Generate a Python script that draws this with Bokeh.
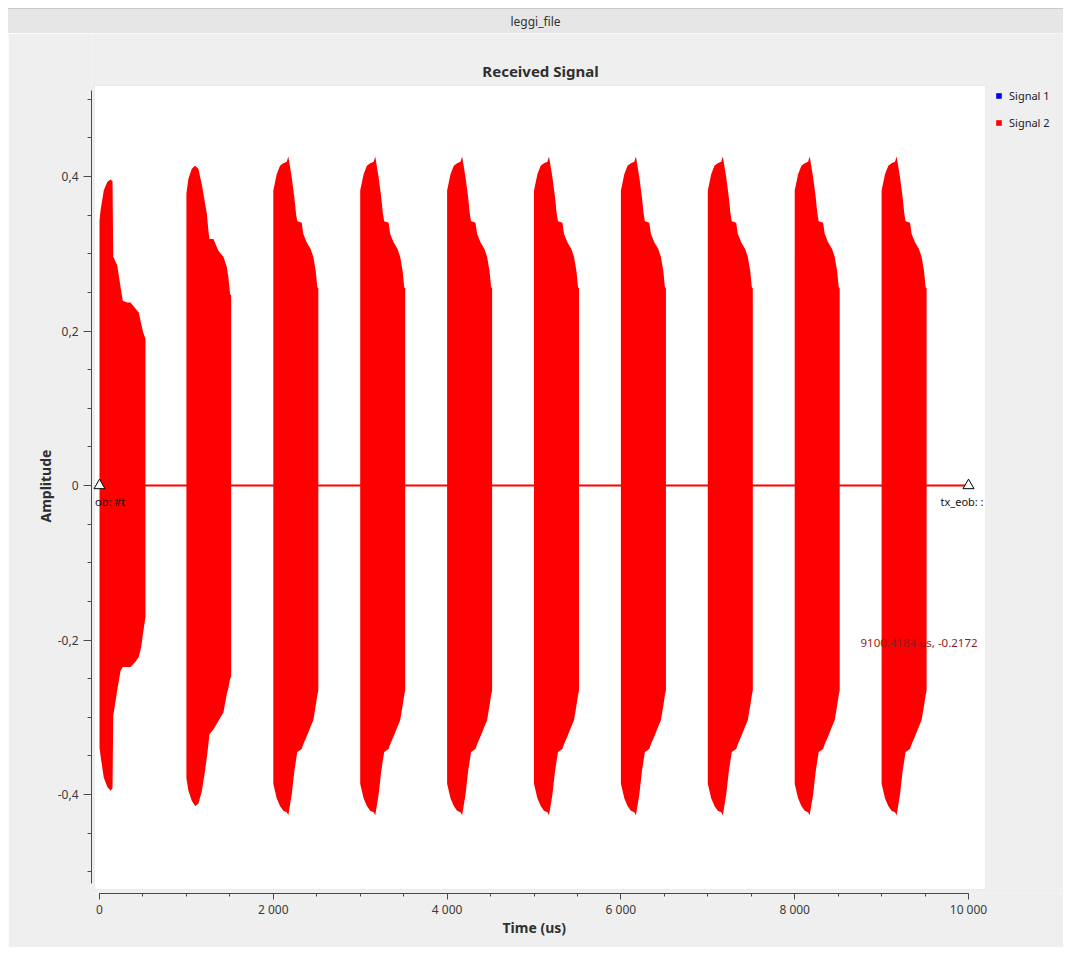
import numpy as np
from bokeh.plotting import figure
from bokeh.models import (Range1d, FixedTicker, CustomJSTickFormatter, BoxAnnotation,
                          Label, Legend, LegendItem, ColumnDataSource, Div, Title)
from bokeh.layouts import column
from bokeh.embed import file_html
from bokeh.resources import INLINE
from bokeh.core.properties import value

# ---------------- data ----------------
burst_start_us = [0, 1000, 2000, 3000, 4000, 5000, 6000, 7000, 8000, 9000]
burst_shape_id = [0, 1, 2, 2, 2, 2, 2, 2, 2, 2]

# shape 0 : first burst
shape0_t = [0, 12, 49, 89, 127, 150, 158, 204, 242, 268, 319, 357, 414, 452, 480, 503, 529]
shape0_top = [0.343, 0.356, 0.382, 0.393, 0.396, 0.394, 0.296, 0.285, 0.257, 0.239,
              0.237, 0.237, 0.229, 0.224, 0.209, 0.198, 0.190]
shape0_bot = [-0.339, -0.350, -0.378, -0.390, -0.395, -0.392, -0.298, -0.265, -0.240, -0.235,
              -0.235, -0.235, -0.228, -0.222, -0.209, -0.190, -0.170]

# shape 1 : second burst
shape1_t = [0, 23, 62, 100, 138, 177, 215, 235, 253, 265, 311, 368, 426, 465, 483, 503, 515]
shape1_top = [0.378, 0.397, 0.410, 0.414, 0.410, 0.390, 0.365, 0.352, 0.330, 0.319,
              0.319, 0.304, 0.296, 0.283, 0.270, 0.248, 0.246]
shape1_bot = [-0.379, -0.395, -0.408, -0.415, -0.412, -0.396, -0.369, -0.352, -0.335, -0.322,
              -0.316, -0.305, -0.294, -0.270, -0.262, -0.250, -0.248]

# shape 2 : bursts 3..10
shape2_t = [0, 39, 77, 115, 154, 173, 212, 242, 261, 276, 327, 345, 384, 430, 460, 488, 506, 518]
shape2_top = [0.382, 0.403, 0.414, 0.417, 0.419, 0.426, 0.399, 0.373, 0.352, 0.342,
              0.340, 0.326, 0.315, 0.306, 0.296, 0.278, 0.257, 0.255]
shape2_bot = [-0.386, -0.405, -0.415, -0.421, -0.423, -0.427, -0.400, -0.370, -0.356, -0.345,
              -0.341, -0.335, -0.325, -0.312, -0.304, -0.285, -0.272, -0.265]

idle_level = 0.0013          # residual amplitude of Signal 2 between bursts
signal1_level = 0.0008       # Signal 1 stays around zero
time_end_us = 10000

tag_times = [0, 10000]
tag_texts = ["ob: #t", "tx_eob: :"]

marker_text = "9100.4184 us, -0.2172"

x_major = [0, 2000, 4000, 6000, 8000, 10000]
y_major = [-0.4, -0.2, 0, 0.2, 0.4]

# ---------------- build series ----------------
shapes = [(shape0_t, shape0_top, shape0_bot),
          (shape1_t, shape1_top, shape1_bot),
          (shape2_t, shape2_top, shape2_bot)]

s2_t, s2_hi, s2_lo = [], [], []
prev_end = 0
for start, sid in zip(burst_start_us, burst_shape_id):
    st, top, bot = shapes[sid]
    if start > prev_end:
        s2_t += [prev_end, start]
        s2_hi += [idle_level, idle_level]
        s2_lo += [-idle_level, -idle_level]
    for t, a, b in zip(st, top, bot):
        s2_t.append(start + t)
        s2_hi.append(a)
        s2_lo.append(b)
    end = start + st[-1]
    s2_t.append(end); s2_hi.append(idle_level); s2_lo.append(-idle_level)
    prev_end = end
s2_t += [prev_end, time_end_us]
s2_hi += [idle_level, idle_level]
s2_lo += [-idle_level, -idle_level]

src2 = ColumnDataSource(dict(t=s2_t, hi=s2_hi, lo=s2_lo))
src1 = ColumnDataSource(dict(t=[0, time_end_us], hi=[signal1_level] * 2, lo=[-signal1_level] * 2))

# ---------------- layout helpers (page pixel -> data) ----------------
PX_US = 869 / 10000.0      # pixels per microsecond
PX_AMP = 772.5             # pixels per amplitude unit
X0_PAGE, Y0_PAGE = 99, 485


def X(px):
    return (px - X0_PAGE) / PX_US


def Y(py):
    return (Y0_PAGE - py) / PX_AMP


FIG_W, FIG_H = 1055, 914
FRAME_L, FRAME_T, FRAME_B = 91, 33, 893   # page coords
FRAME_R = 8 + FIG_W

FONT = "Noto Sans"

p = figure(width=FIG_W, height=FIG_H, output_backend="svg", toolbar_location=None,
           title=None,
           x_range=Range1d(X(FRAME_L), X(FRAME_R)),
           y_range=Range1d(Y(FRAME_B), Y(FRAME_T)),
           min_border_left=FRAME_L - 8, min_border_right=0, min_border_top=0,
           min_border_bottom=FIG_H - (FRAME_B - 33),
           background_fill_color="#efefef", border_fill_color="#efefef",
           outline_line_color=None)
p.grid.visible = False

# white canvas
p.add_layout(BoxAnnotation(left=X(94), right=X(985), top=Y(85), bottom=Y(889),
                           fill_color="white", fill_alpha=1.0,
                           line_color="#d2d2d2", line_width=1, level="underlay"))

r1 = p.varea(x="t", y1="lo", y2="hi", source=src1, fill_color="#0000ff")
r2 = p.varea(x="t", y1="lo", y2="hi", source=src2, fill_color="#ff0000")

# tags
tag_src = ColumnDataSource(dict(t=tag_times, y=[0, 0], txt=tag_texts, xo=[-4.5, -28]))
p.scatter(x="t", y="y", source=tag_src, marker="triangle", size=11,
          fill_color="white", line_color="black", line_width=1)
p.text(x="t", y="y", text="txt", source=tag_src, x_offset="xo", y_offset=16,
       text_font=value(FONT), text_font_size="11px", text_color="#111111",
       text_baseline="middle", text_align="left")

# title
p.add_layout(Label(x=X(540), y=Y(70), text="Received Signal", text_align="center",
                   text_baseline="middle", text_font=FONT, text_font_size="15px",
                   text_font_style="bold", text_color="#303030"))
# picker readout
p.add_layout(Label(x=X(860), y=Y(642), text=marker_text, text_align="left",
                   text_baseline="middle", text_font=FONT, text_font_size="11.5px",
                   text_color="#8f1d1d"))

# axis titles (centred on the axis extent, as in the reference)
p.add_layout(Title(text="Time (us)", align="left", offset=502 - FRAME_L,
                   vertical_align="top",
                   text_font=FONT, text_font_size="14px", text_font_style="bold",
                   text_color="#303030", standoff=-5), "below")
p.add_layout(Title(text="Amplitude", align="left", offset=FRAME_B - 522,
                   text_font=FONT, text_font_size="14px", text_font_style="bold",
                   text_color="#303030", standoff=0), "left")

# legend
legend = Legend(items=[LegendItem(label="Signal 1", renderers=[r1]),
                       LegendItem(label="Signal 2", renderers=[r2])],
                location=(991 - FRAME_L, FRAME_B - 136),
                padding=4, margin=0, spacing=7, label_height=20,
                glyph_width=7, glyph_height=7, label_standoff=7,
                label_text_font=FONT, label_text_font_size="11px",
                label_text_color="#222222",
                background_fill_alpha=0, border_line_alpha=0)
p.add_layout(legend)

# axes
xa = p.xaxis[0]
xa.bounds = (0, 10000)
xa.ticker = FixedTicker(ticks=x_major, minor_ticks=list(np.arange(0, 10001, 500)))
xa.formatter = CustomJSTickFormatter(code=r"""
const s = Math.round(tick).toString();
return s.replace(/\B(?=(\d{3})+(?!\d))/g, " ");
""")
xa.major_tick_out = 6
xa.major_tick_in = 0
xa.minor_tick_out = 3
xa.minor_tick_in = 0
xa.major_label_standoff = 1

ya = p.yaxis[0]
ya.bounds = (-0.515, 0.511)
ya.ticker = FixedTicker(ticks=y_major, minor_ticks=[round(v, 2) for v in np.arange(-0.5, 0.501, 0.05)])
ya.formatter = CustomJSTickFormatter(code=r"""
if (Math.abs(tick) < 1e-9) return "0";
return tick.toFixed(1).replace(".", ",");
""")
ya.major_tick_out = 8
ya.major_tick_in = 0
ya.minor_tick_out = 4
ya.minor_tick_in = 0
ya.major_label_standoff = 5

for ax in (xa, ya):
    ax.axis_line_color = "#4a4a4a"
    ax.major_tick_line_color = "#4a4a4a"
    ax.minor_tick_line_color = "#4a4a4a"
    ax.major_label_text_font = FONT
    ax.major_label_text_font_size = "12px"
    ax.major_label_text_color = "#3a3a3a"

bar = Div(text="leggi_file", width=FIG_W, height=25, margin=(0, 0, 0, 0),
          styles={"background-color": "#e6e6e6", "text-align": "center",
                  "line-height": "25px", "font-family": FONT, "font-size": "12px",
                  "color": "#333333", "border-top": "1px solid #c8c8c8"})

layout = column(bar, p, spacing=0, margin=(8, 0, 0, 8))
open("out.html", "w").write(file_html(layout, INLINE))
